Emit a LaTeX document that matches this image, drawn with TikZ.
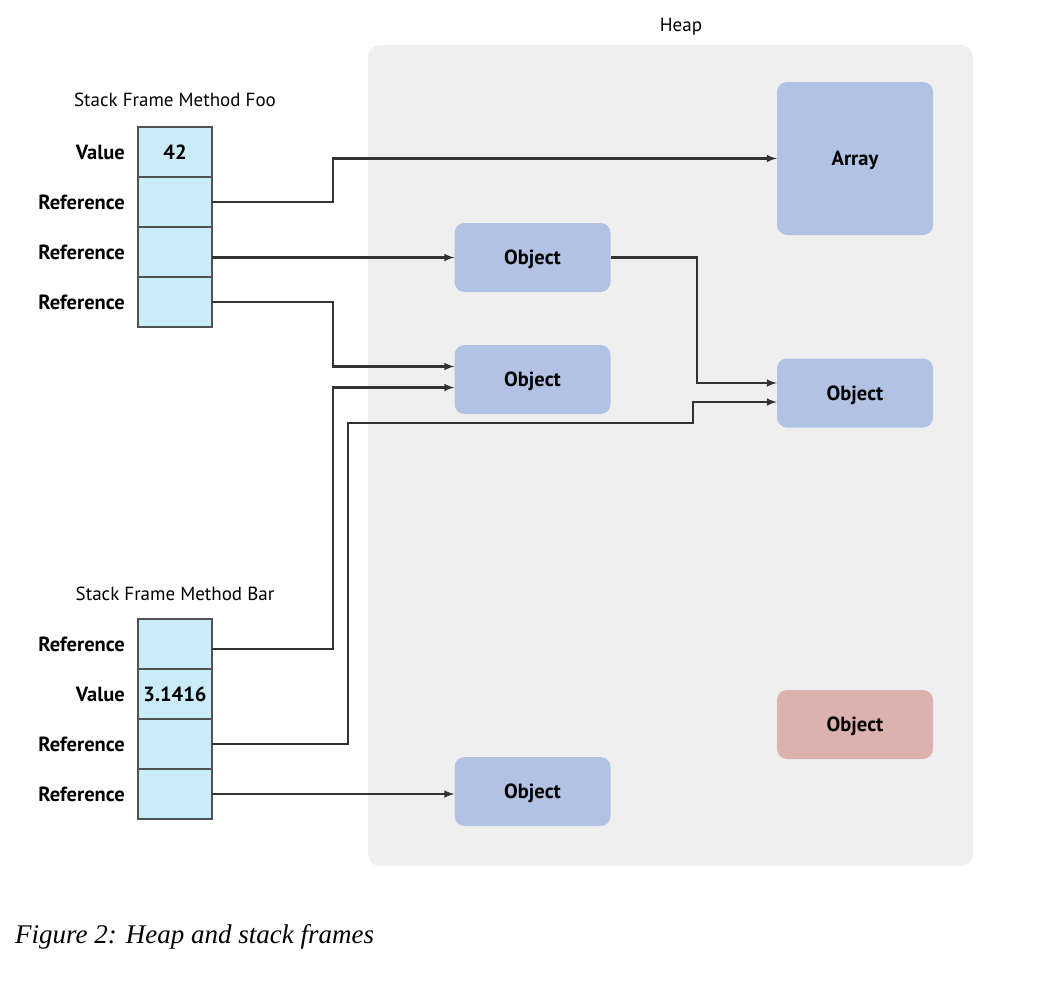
\documentclass[tikz,border=0pt]{standalone}
\usepackage{fontspec}
\setmainfont{Liberation Serif}
\setsansfont{PT Sans}
\usetikzlibrary{positioning}
\definecolor{heapgray}{RGB}{239,239,239}
\definecolor{cellblue}{RGB}{202,235,248}
\definecolor{objblue}{RGB}{178,194,228}
\definecolor{objred}{RGB}{219,178,174}
\definecolor{linegray}{RGB}{50,50,50}

\begin{document}
\begin{tikzpicture}[x=1pt,y=-1pt,
    title/.style={font={\fontsize{19}{22}\selectfont\sffamily}},
    slot/.style={draw=linegray!85,line width=1.6pt,fill=cellblue,
        minimum width=74pt,minimum height=50pt,inner sep=0pt,outer sep=0pt,
        font={\fontsize{20.5}{24}\selectfont\sffamily\bfseries}},
    kind/.style={anchor=east,inner sep=0pt,
        font={\fontsize{20.5}{24}\selectfont\sffamily\bfseries}},
    obj/.style={fill=objblue,rounded corners=10pt,minimum width=156pt,
        minimum height=69pt,text depth=0pt,
        font={\fontsize{20.5}{24}\selectfont\sffamily\bfseries}},
    ref/.style={draw=linegray,line width=2.4pt,-latex},
    ]
    \useasboundingbox (0,0) rectangle (1064,980);
    % Heap area
    \node[fill=heapgray,rounded corners=12pt,minimum width=605pt,
          minimum height=821pt] (heap) at (670.5,455.5) {};
    \node[title] (heaptitle) at (681,27) {Heap};
    % Stack frame of Foo
    \node[title] (footitle) at (175,100) {Stack Frame Method Foo};
    \node[slot] (foo0) at (175,152) {42};
    \node[slot,below=0pt of foo0] (foo1) {};
    \node[slot,below=0pt of foo1] (foo2) {};
    \node[slot,below=0pt of foo2] (foo3) {};
    \node[kind,left=13pt of foo0] {Value};
    \node[kind,left=13pt of foo1] {Reference};
    \node[kind,left=13pt of foo2] {Reference};
    \node[kind,left=13pt of foo3] {Reference};
    % Stack frame of Bar
    \node[title] (bartitle) at (175,594) {Stack Frame Method Bar};
    \node[slot] (bar0) at (175,644) {};
    \node[slot,below=0pt of bar0] (bar1) {3.1416};
    \node[slot,below=0pt of bar1] (bar2) {};
    \node[slot,below=0pt of bar2] (bar3) {};
    \node[kind,left=13pt of bar0] {Reference};
    \node[kind,left=13pt of bar1] {Value};
    \node[kind,left=13pt of bar2] {Reference};
    \node[kind,left=13pt of bar3] {Reference};
    % Heap objects
    \node[obj,minimum height=153pt] (array) at (855,158.5) {Array};
    \node[obj] (obj1) at (532.5,257.5) {Object};
    \node[obj] (obj2) at (532.5,379.5) {Object};
    \node[obj] (obj3) at (855,393) {Object};
    \node[obj,fill=objred] (objred) at (855,724.5) {Object};
    \node[obj] (obj4) at (532.5,791.5) {Object};
    % References out of Foo
    \draw[ref] (foo1.east) -- ++(121,0) |- (array.west);
    \draw[ref] (foo2.east |- obj1.west) -- (obj1.west);
    \draw[ref] (foo3.east) -- ++(121,0) |- ([yshift=13pt]obj2.west);
    % References out of Bar
    \draw[ref] ([yshift=-5pt]bar0.east) -- ++(121,0)
         |- ([yshift=-8pt]obj2.west);
    \draw[ref] (bar2.east) -- ++(136,0)
         |- ([xshift=-84pt,yshift=-30pt]obj3.west)
         |- ([yshift=-9pt]obj3.west);
    \draw[ref] (bar3.east) -- (bar3.east -| obj4.west);
    % Object to object
    \draw[ref] (obj1.east) -| ([xshift=-80pt,yshift=10pt]obj3.west)
         -- ([yshift=10pt]obj3.west);
    % Caption
    \node[anchor=west,inner sep=0pt,
          font={\fontsize{27}{32}\selectfont\itshape}] (caption) at (15,937)
         {Figure 2: Heap and stack frames};
\end{tikzpicture}
\end{document}
